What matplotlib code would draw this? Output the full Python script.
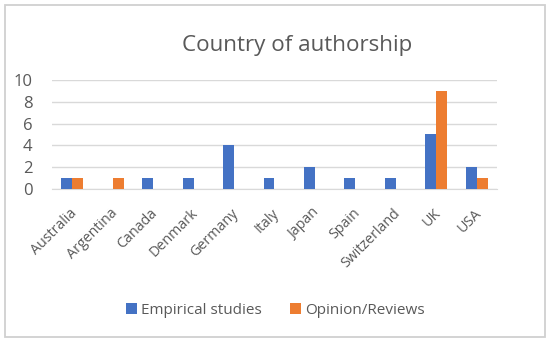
import matplotlib.pyplot as plt
import numpy as np
from matplotlib.patches import Rectangle
from matplotlib.transforms import ScaledTranslation

countries = ['Australia', 'Argentina', 'Canada', 'Denmark', 'Germany',
             'Italy', 'Japan', 'Spain', 'Switzerland', 'UK', 'USA']
empirical = [1, 0, 1, 1, 4, 1, 2, 1, 1, 5, 2]
opinion = [1, 1, 0, 0, 0, 0, 0, 0, 0, 9, 1]
y_ticks = [0, 2, 4, 6, 8, 10]

plt.rcParams['font.family'] = ['Open Sans', 'DejaVu Sans']
text_grey = '#595959'

fig = plt.figure(figsize=(5.5, 3.43), dpi=100)
ax = fig.add_axes([0.0945, 0.449, 0.809, 0.318])

# light grey frame round the whole chart, Excel style
fig.patches.append(Rectangle((0.009, 0.0175), 0.982, 0.968, transform=fig.transFigure,
                             fill=False, edgecolor='#d0d0d0', linewidth=1.3))

x = np.arange(len(countries))
w = 0.27
ax.bar(x - w / 2, empirical, w, color='#4472C4', label='Empirical studies', zorder=3)
ax.bar(x + w / 2, opinion, w, color='#ED7D31', label='Opinion/Reviews', zorder=3)

ax.set_xlim(-0.5, len(countries) - 0.5)
ax.set_ylim(0, 10)
ax.set_yticks(y_ticks)
ax.set_xticks(x)
ax.set_xticklabels(countries, rotation=45, ha='right', va='top', rotation_mode='anchor')
ax.tick_params(axis='both', length=0, colors=text_grey)
ax.tick_params(axis='x', pad=12, labelsize=10.3)
ax.tick_params(axis='y', pad=14, labelsize=12)
# pull the rotated labels a touch to the left
shift = ScaledTranslation(-3 / 100, 0, fig.dpi_scale_trans)
for lbl in ax.get_xticklabels():
    lbl.set_transform(lbl.get_transform() + shift)

ax.yaxis.grid(True, color='#d9d9d9', linewidth=1, zorder=0)
for side in ['top', 'right', 'left']:
    ax.spines[side].set_visible(False)
ax.spines['bottom'].set_color('#d9d9d9')

fig.text(0.540, 0.868, 'Country of authorship', ha='center', va='center',
         fontsize=16.1, color=text_grey)

fig.legend(loc='center', bbox_to_anchor=(0.5006, 0.0956), ncol=2, frameon=False,
           fontsize=11, handlelength=0.72, handleheight=0.72, columnspacing=1.8,
           handletextpad=0.3, labelcolor=text_grey)

fig.savefig('out.png', dpi=100)
